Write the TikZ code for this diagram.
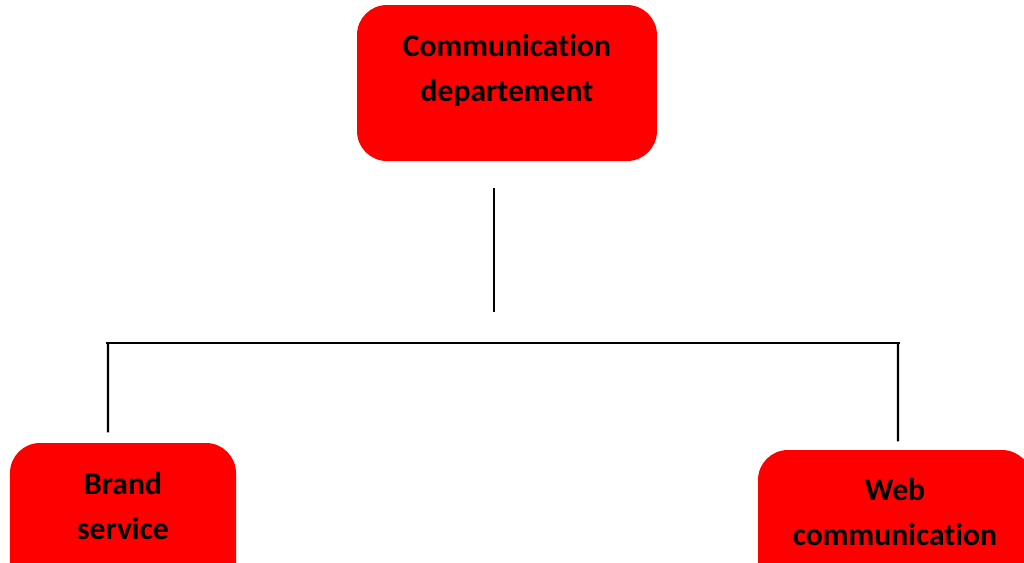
\documentclass[tikz,border=0pt]{standalone}
\usepackage{fontspec}
\setmainfont{Carlito}[Ligatures=CommonOff]

\begin{document}
\begin{tikzpicture}[
    font=\bfseries\fontsize{9}{12.8}\selectfont,
    unitbox/.style={fill=red, draw=none, rounded corners=0.3cm, inner sep=0pt},
    unittext/.style={align=center, inner sep=0pt},
    link/.style={draw=black, line width=0.6pt}
]

\useasboundingbox (0,0) rectangle (10.24,-5.62);
\clip (0,0) rectangle (10.24,-5.62);

% === Top box ===
\node[unitbox, minimum width=3.00cm, minimum height=1.56cm] (dept) at (5.07,-0.83) {};
\node[unittext] (dept text) at (5.07,-0.70) {Communication\\departement};

% === Bottom boxes ===
\node[unitbox, minimum width=2.26cm, minimum height=1.50cm] (brand) at (1.23,-5.18) {};
\node[unittext] (brand text) at (1.23,-5.06) {Brand\\service};

\node[unitbox, minimum width=2.74cm, minimum height=1.50cm] (web) at (8.95,-5.25) {};
\node[unittext] (web text) at (8.95,-5.12) {Web\\communication};

% === Connectors ===
\coordinate (bar left) at (1.06,-3.43);
\coordinate (bar right) at (9.00,-3.43);

\draw[link] ([shift={(-0.13,-0.26)}]dept.south) -- ++(0,-1.24);
\draw[link] (bar left) -- (bar right);
\draw[link] ([xshift=0.02cm]bar left) -- ([shift={(-0.15,0.10)}]brand.north);
\draw[link] ([xshift=-0.02cm]bar right) -- ([shift={(0.03,0.08)}]web.north);

\end{tikzpicture}
\end{document}
